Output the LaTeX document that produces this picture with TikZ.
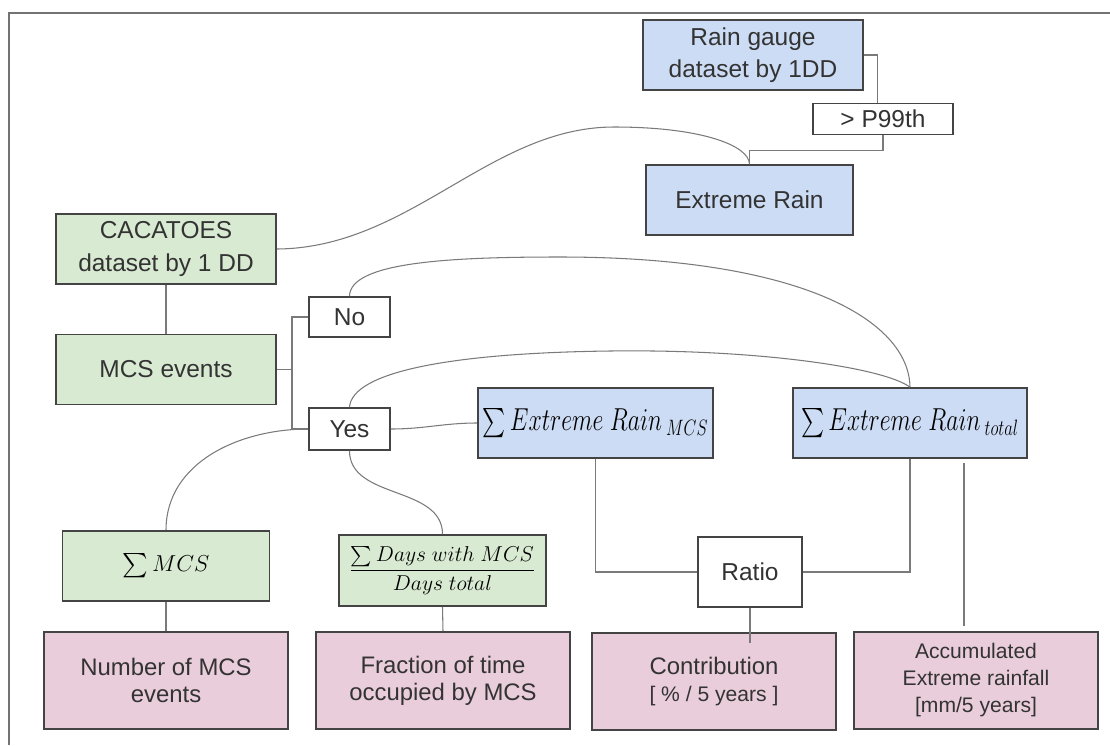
\RequirePackage{fix-cm}
\documentclass[tikz,border=0pt]{standalone}
\usepackage{amsmath}
\usepackage{fontspec}
\setmainfont{Liberation Sans}
\usetikzlibrary{positioning}

\definecolor{boxGreen}{HTML}{D9EAD3}
\definecolor{boxBlue}{HTML}{CCDCF4}
\definecolor{boxPink}{HTML}{EACDDB}
\definecolor{edgeGray}{HTML}{444444}
\definecolor{linkGray}{HTML}{7A7A7A}
\definecolor{textGray}{HTML}{333333}

\begin{document}
\begin{tikzpicture}[
    x=0.025cm, y=-0.025cm,
    font=\fontsize{17.4}{22.8}\selectfont,
    baseBox/.style={
        rectangle, draw=edgeGray, line width=1.1pt, text=textGray,
        align=center, inner sep=1pt
    },
    greenBox/.style={baseBox, fill=boxGreen, minimum width=5.5cm, minimum height=1.75cm},
    blueBox/.style={baseBox, fill=boxBlue, minimum width=5.5cm, minimum height=1.75cm},
    pinkBox/.style={
        baseBox, fill=boxPink, minimum width=6.1cm, minimum height=2.425cm,
        font=\fontsize{17}{19.2}\selectfont
    },
    plainBox/.style={baseBox, fill=white, minimum width=2.025cm, minimum height=1cm},
    mathBox/.style={text=black, font=\fontsize{22.6}{24}\selectfont},
    link/.style={draw=linkGray, line width=0.75pt}
]
\useasboundingbox (0,0) rectangle (1110,745);

% frame
\draw[draw=gray!90!black, line width=1.4pt] (9,745) -- (9,13) -- (1110,13);

% Rain gauge branch
\node[blueBox] (rain) at (753,55) {Rain gauge\\dataset by 1DD};
\node[plainBox, minimum width=3.5cm, minimum height=0.775cm] (p99) at (883,119) {> P99th};
\node[blueBox, minimum width=5.175cm] (extreme) at (749.5,200) {Extreme Rain};

% MCS branch
\node[greenBox] (cacatoes) at (166,249) {CACATOES\\dataset by 1 DD};
\node[greenBox] (mcs) at (166,369.5) {MCS events};
\node[plainBox] (no) at (349.5,317) {No};
\node[plainBox, minimum height=1.05cm] (yes) at (349.5,429) {Yes};
\coordinate (split) at (292,369.5);

% sums
\node[blueBox, mathBox, minimum width=5.875cm] (erMcs) at (595.5,423)
    {\scalebox{0.75}[1]{$\sum Extreme\ Rain\,{}_{MCS}$}};
\node[blueBox, mathBox, minimum width=5.85cm] (erTotal) at (910,423)
    {\scalebox{0.75}[1]{$\sum Extreme\ Rain\,{}_{total}$}};
\node[greenBox, mathBox, minimum width=5.175cm, font=\fontsize{16.4}{18}\selectfont] (sumMcs) at (166,566)
    {$\sum MCS$};
\node[greenBox, mathBox, minimum width=5.175cm, minimum height=1.775cm, font=\fontsize{15.3}{18}\selectfont] (days) at (442.5,570.5)
    {$\displaystyle\frac{\sum Days\ with\ MCS}{Days\ total}$};
\node[plainBox, minimum width=2.6cm, minimum height=1.75cm] (ratio) at (750,572) {Ratio};

% results
\node[pinkBox] (number) at (166,680.5) {Number of MCS\\events};
\node[pinkBox, minimum width=6.35cm] (fraction) at (443,680.5) {Fraction of time\\occupied by MCS};
\node[pinkBox] (contrib) at (714,681.5)
    {Contribution\\{\fontsize{15}{19.2}\selectfont [ \% / 5 years ]}};
\node[pinkBox, font=\fontsize{15}{19.2}\selectfont] (accum) at (976,680.5)
    {Accumulated\\Extreme rainfall\\{[}mm/5 years{]}};

% connectors
\draw[link] (rain.east) -| (p99.110);
\draw[link] (p99.south) -- ++(0,15) -| (extreme.north);
\draw[link] (cacatoes.east) .. controls (410,248) and (490,127) .. (614,127)
    .. controls (700,127) and (749,145) .. (extreme.north);
\draw[link] (cacatoes.south) -- (mcs.north);
\draw[link] (mcs.east) -- (split);
\draw[link] (split) |- (no.west);
\draw[link] (split) |- (yes.west);
\draw[link] (no.north) .. controls (350,262) and (450,257) .. (560,257)
    .. controls (800,257) and (909,320) .. (erTotal.north);
\draw[link] (yes.north) .. controls (352,372) and (450,353) .. (610,351)
    .. controls (760,349) and (885,368) .. (erTotal.north);
\draw[link] (yes.east) to[out=0, in=180] (erMcs.west);
\draw[link] (yes.west) to[out=180, in=90] (sumMcs.north);
\draw[link] (yes.south) to[out=-90, in=90] (days.north);
\draw[link] (erMcs.south) |- (ratio.west);
\draw[link] (erTotal.south) |- (ratio.east);
\draw[link] (ratio.south) -- ++(0,35);
\draw[link] (sumMcs.south) -- (number.north);
\draw[link] (days.south) -- (fraction.north);
\draw[link, shorten <=3pt, shorten >=4pt] (erTotal.south -| 964,0) -- (accum.north -| 964,0);

\end{tikzpicture}
\end{document}
